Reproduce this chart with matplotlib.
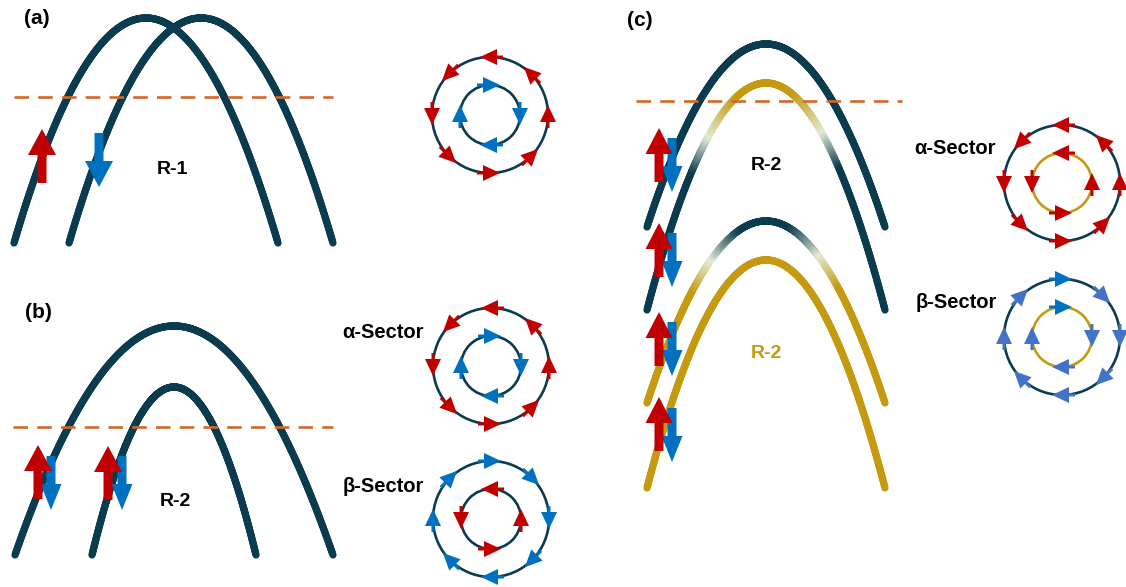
import matplotlib.pyplot as plt
import numpy as np
from matplotlib.collections import LineCollection
from matplotlib.colors import to_rgb
from matplotlib.patches import Circle

plt.rcParams['font.family'] = ['Liberation Sans', 'DejaVu Sans']

DARK = '#0b3b4e'
GOLD = '#c59a10'
PALE = '#e3ecd6'
ORANGE = '#d0692a'
RED = '#c00000'
BLUE = '#0070c0'
LBLUE = '#4472c4'

# arches (pixel units, y down): centre x, peak y, half width at foot, foot y
arch_cx = [146, 201, 174, 174, 766, 766, 766, 766]
arch_peak = [18, 18, 326, 387, 44, 83, 221, 260]
arch_hw = [132, 132, 159, 82, 119, 119, 119, 119]
arch_foot = [243, 243, 555, 555, 227, 310, 403, 488]
# colour stops along y for each arch
arch_stops = [
    [(0, DARK)], [(0, DARK)], [(0, DARK)], [(0, DARK)],
    [(0, DARK)],
    [(95, GOLD), (135, PALE), (170, DARK)],
    [(228, DARK), (258, PALE), (290, GOLD)],
    [(0, GOLD)],
]

# dashed levels: y, x start, x end
level_y = [97, 427, 101]
level_x0 = [14, 13, 636]
level_x1 = [333, 333, 902]

# spin arrows: x position and tip y
up_x = [42, 38, 108, 659, 659, 659, 659]
up_tip = [129, 445, 446, 128, 223, 312, 397]
up_head = [28, 28, 28, 27, 27, 27, 27]
down_x = [99, 51, 122, 672, 672, 672, 672]
down_tip = [187, 510, 510, 192, 287, 376, 462]
down_head = [28, 21, 21, 21, 21, 21, 21]
ARROW_LEN = 54

# rings
ring_cx = [490, 491, 491, 1062, 1062]
ring_cy = [115, 366, 519, 183, 337]
outer_r = 58
inner_r = 30
inner_ring_col = [DARK, DARK, DARK, GOLD, GOLD]
outer_ang = [90, 135, 180, 225, 270, 315, 0, 45]
inner_ang = [90, 180, 270, 0]
outer_dir = [1, 1, -1, 1, -1]   # 1 = counter-clockwise
inner_dir = [-1, -1, 1, 1, -1]
outer_cols = [[RED] * 8, [RED] * 8, [BLUE] * 8, [RED] * 8, [BLUE] + [LBLUE] * 7]
inner_cols = [[BLUE] * 4, [BLUE] * 4, [RED] * 4, [RED] * 4, [BLUE] + [LBLUE] * 3]

# texts
txt = ['(a)', '(b)', '(c)', 'R-1', 'R-2', 'R-2', 'R-2',
       'α-Sector', 'β-Sector', 'α-Sector', 'β-Sector']
txt_x = [37, 38, 640, 172, 175, 766, 766, 383, 383, 955, 956]
txt_y = [18, 312, 20, 170, 501, 165, 353, 332, 487, 149, 302]
txt_col = ['black'] * 6 + [GOLD] + ['black'] * 4
txt_size = [15, 15, 15, 14, 14, 14, 14, 14.5, 14.5, 14.5, 14.5]


def stop_colors(stops, yv):
    if len(stops) == 1:
        return np.tile(to_rgb(stops[0][1]), (len(yv), 1))
    ys = [s[0] for s in stops]
    rgb = np.array([to_rgb(s[1]) for s in stops])
    return np.column_stack([np.interp(yv, ys, rgb[:, k]) for k in range(3)])


def draw_arch(ax, cx, peak, hw, foot, stops):
    xs = np.linspace(cx - hw, cx + hw, 500)
    ys = peak + (foot - peak) * ((xs - cx) / hw) ** 2
    pts = np.column_stack([xs, ys]).reshape(-1, 1, 2)
    segs = np.concatenate([pts[:-1], pts[1:]], axis=1)
    cols = stop_colors(stops, 0.5 * (ys[:-1] + ys[1:]))
    lc = LineCollection(segs, colors=cols, linewidths=5.2, capstyle='round', joinstyle='round', zorder=2)
    ax.add_collection(lc)


def ring_head(ax, cx, cy, r, ang, d, col):
    t = np.radians(ang)
    px, py = cx + r * np.cos(t), cy - r * np.sin(t)
    tx, ty = -d * np.sin(t), -d * np.cos(t)
    ax.arrow(px - 13 * tx, py - 13 * ty, 23 * tx, 23 * ty, width=3, head_width=16,
             head_length=17, length_includes_head=True, color=col, lw=0, zorder=5)


fig = plt.figure(figsize=(11.26, 5.87), dpi=100)
ax = fig.add_axes([0, 0, 1, 1])
ax.set_xlim(0, 1126)
ax.set_ylim(587, 0)
ax.axis('off')

for i in range(len(arch_cx)):
    draw_arch(ax, arch_cx[i], arch_peak[i], arch_hw[i], arch_foot[i], arch_stops[i])

for y, x0, x1 in zip(level_y, level_x0, level_x1):
    ax.plot([x0, x1], [y, y], color=ORANGE, lw=1.9, dashes=(5.5, 3.5), zorder=3)

for x, tip, hw in zip(down_x, down_tip, down_head):
    ax.arrow(x, tip - ARROW_LEN, 0, ARROW_LEN, width=9, head_width=hw, head_length=26,
             length_includes_head=True, color=BLUE, lw=0, zorder=4)
for x, tip, hw in zip(up_x, up_tip, up_head):
    ax.arrow(x, tip + ARROW_LEN, 0, -ARROW_LEN, width=9, head_width=hw, head_length=26,
             length_includes_head=True, color=RED, lw=0, zorder=4)

for i in range(len(ring_cx)):
    ax.add_patch(Circle((ring_cx[i], ring_cy[i]), outer_r, fill=False, ec=DARK, lw=1.9, zorder=3))
    ax.add_patch(Circle((ring_cx[i], ring_cy[i]), inner_r, fill=False, ec=inner_ring_col[i], lw=1.9, zorder=3))
    for a, c in zip(outer_ang, outer_cols[i]):
        ring_head(ax, ring_cx[i], ring_cy[i], outer_r, a, outer_dir[i], c)
    for a, c in zip(inner_ang, inner_cols[i]):
        ring_head(ax, ring_cx[i], ring_cy[i], inner_r, a, inner_dir[i], c)

for s, x, y, c, fs in zip(txt, txt_x, txt_y, txt_col, txt_size):
    ax.text(x, y, s, color=c, fontsize=fs, fontweight='bold', ha='center', va='center', zorder=6)

fig.savefig('out.png', dpi=100)
